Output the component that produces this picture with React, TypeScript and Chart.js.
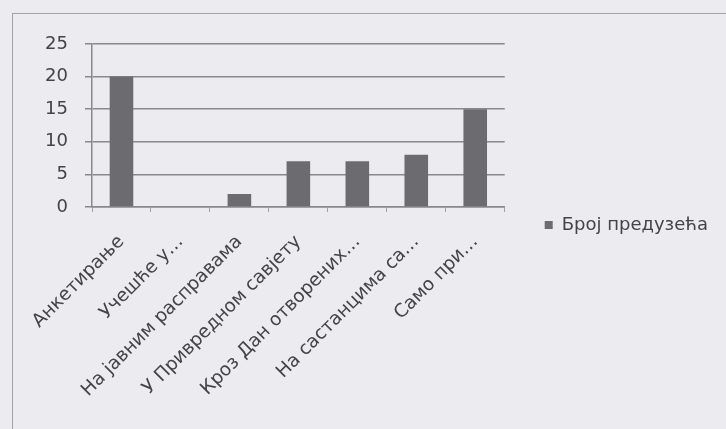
import { useEffect, useRef } from 'react';
import { Chart, registerables } from 'chart.js';

Chart.register(...registerables);

const categories = [
  'Анкетирање',
  'Учешће у…',
  'На јавним расправама',
  'У Привредном савјету',
  'Кроз Дан отворених…',
  'На састанцима са…',
  'Само при…',
];
const seriesName = 'Број предузећа';
const values = [20, 0, 2, 7, 7, 8, 15];
const yTicks = [0, 5, 10, 15, 20, 25];

const FONT = 'DejaVu Sans, Arial, sans-serif';
const TEXT = '#444448';
const GRID = '#88888d';

export default function App() {
  const ref = useRef<HTMLCanvasElement>(null);

  useEffect(() => {
    if (!ref.current) return;
    const chart = new Chart(ref.current, {
      type: 'bar',
      data: {
        labels: categories,
        datasets: [
          {
            label: seriesName,
            data: values,
            backgroundColor: '#6b6b70',
            borderWidth: 0,
            barPercentage: 0.4,
            categoryPercentage: 1,
          },
        ],
      },
      options: {
        responsive: false,
        animation: false,
        devicePixelRatio: 1,
        layout: { padding: { top: 44, right: 8, bottom: 23, left: 0 } },
        plugins: {
          tooltip: { enabled: false },
          legend: {
            position: 'right',
            maxWidth: 320,
            labels: {
              boxWidth: 8,
              boxHeight: 8,
              padding: 40,
              color: TEXT,
              font: { family: FONT, size: 18 },
            },
          },
        },
        scales: {
          x: {
            grid: {
              display: true,
              drawOnChartArea: false,
              offset: true,
              tickLength: 5,
              color: '#a0a0a5',
            },
            border: { display: true, color: GRID, width: 1.5 },
            ticks: {
              autoSkip: false,
              maxRotation: 45,
              minRotation: 45,
              padding: 19,
              color: TEXT,
              font: { family: FONT, size: 18.5 },
            },
            afterFit: (s: any) => {
              s.height = 199;
            },
          },
          y: {
            min: yTicks[0],
            max: yTicks[yTicks.length - 1],
            ticks: {
              stepSize: yTicks[1] - yTicks[0],
              padding: 17,
              color: TEXT,
              font: { family: FONT, size: 18 },
            },
            grid: { color: GRID, lineWidth: 1.5, tickLength: 7 },
            border: { display: true, color: GRID, width: 1.5 },
            afterFit: (s: any) => {
              s.width = 92;
            },
          },
        },
      },
    });
    return () => chart.destroy();
  }, []);

  return (
    <div
      style={{
        position: 'fixed',
        left: 0,
        top: 0,
        width: 726,
        height: 429,
        overflow: 'hidden',
        background: '#ebebf0',
      }}
    >
      <div
        style={{
          position: 'absolute',
          left: 12,
          top: 13,
          width: 800,
          height: 500,
          border: '1.5px solid #a2a2a7',
        }}
      />
      <canvas
        ref={ref}
        width={726}
        height={429}
        style={{ position: 'absolute', left: 0, top: 0, width: 726, height: 429 }}
      />
    </div>
  );
}
